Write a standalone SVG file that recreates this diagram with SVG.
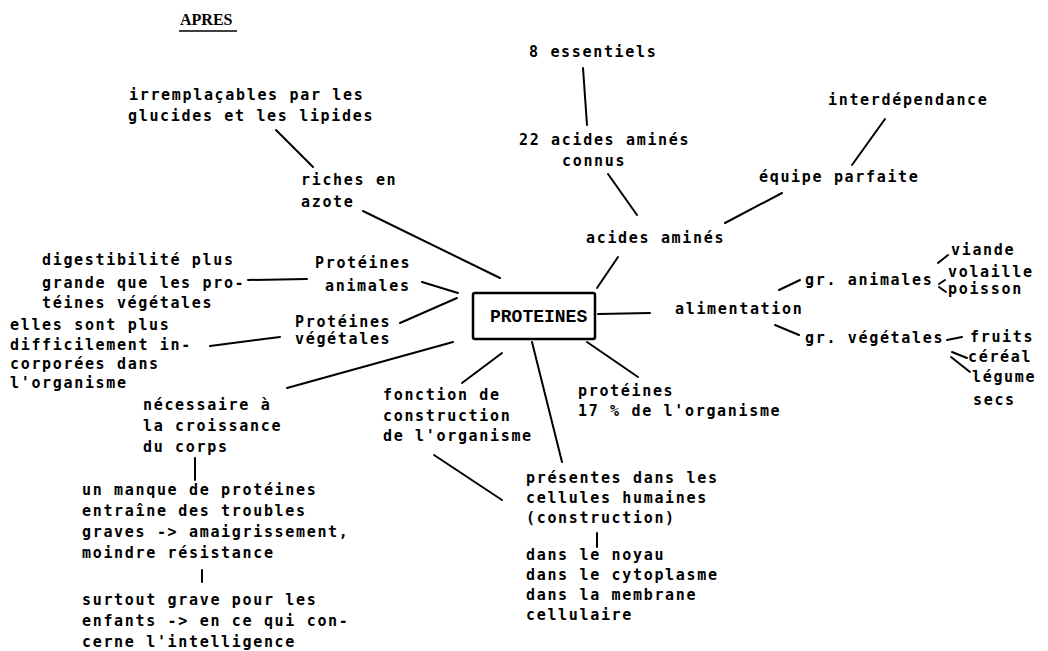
<svg xmlns="http://www.w3.org/2000/svg" width="1048" height="651" viewBox="0 0 1048 651">
<style>
  text { font-family: "DejaVu Sans Mono", "Liberation Mono", monospace; font-size: 15px; font-weight: bold; letter-spacing: 1.67px; fill: #000; }
  .title { font-family: "Liberation Serif", serif; font-size: 16px; letter-spacing: 0; }
  .main { font-family: "Liberation Mono", monospace; font-size: 18px; letter-spacing: 0; }
  .c line { stroke: #000; stroke-width: 2; stroke-linecap: round; }
  .box { fill: none; stroke: #000; stroke-width: 2.5; }
</style>
<rect width="1048" height="651" fill="#fff"/>
<g id="title">
  <text class="title" x="180" y="25">APRES</text>
  <line x1="179" y1="31" x2="237" y2="31" stroke="#000" stroke-width="1.5"/>
</g>
<g id="proteines">
  <rect class="box" x="473" y="293" width="122" height="46" rx="2"/>
  <text class="main" x="490" y="322">PROTEINES</text>
</g>
<g id="irremplacables">
  <text x="129" y="100">irremplaçables par les</text>
  <text x="128" y="121">glucides et les lipides</text>
</g>
<g id="riches">
  <text x="301" y="185">riches en</text>
  <text x="301" y="207">azote</text>
</g>
<g id="essentiels"><text x="529" y="57">8 essentiels</text></g>
<g id="acides22">
  <text x="519" y="145">22 acides aminés</text>
  <text x="562" y="166">connus</text>
</g>
<g id="interdependance"><text x="828" y="105">interdépendance</text></g>
<g id="equipe"><text x="759" y="182">équipe parfaite</text></g>
<g id="acides"><text x="586" y="243">acides aminés</text></g>
<g id="digestibilite">
  <text x="42" y="265">digestibilité plus</text>
  <text x="42" y="288">grande que les pro-</text>
  <text x="42" y="308">téines végétales</text>
</g>
<g id="prot-animales">
  <text x="315" y="268">Protéines</text>
  <text x="325" y="291">animales</text>
</g>
<g id="prot-vegetales">
  <text x="295" y="327">Protéines</text>
  <text x="295" y="344">végétales</text>
</g>
<g id="elles">
  <text x="10" y="330">elles sont plus</text>
  <text x="10" y="350">difficilement in-</text>
  <text x="10" y="369">corporées dans</text>
  <text x="10" y="388">l'organisme</text>
</g>
<g id="necessaire">
  <text x="143" y="410">nécessaire à</text>
  <text x="143" y="431">la croissance</text>
  <text x="143" y="452">du corps</text>
</g>
<g id="manque">
  <text x="82" y="495">un manque de protéines</text>
  <text x="82" y="516">entraîne des troubles</text>
  <text x="82" y="537">graves -&gt; amaigrissement,</text>
  <text x="82" y="558">moindre résistance</text>
</g>
<g id="surtout">
  <text x="82" y="605">surtout grave pour les</text>
  <text x="82" y="626">enfants -&gt; en ce qui con-</text>
  <text x="82" y="647">cerne l'intelligence</text>
</g>
<g id="fonction">
  <text x="383" y="400">fonction de</text>
  <text x="383" y="421">construction</text>
  <text x="383" y="441">de l'organisme</text>
</g>
<g id="proteines17">
  <text x="578" y="396">protéines</text>
  <text x="578" y="416">17 % de l'organisme</text>
</g>
<g id="presentes">
  <text x="526" y="483">présentes dans les</text>
  <text x="526" y="503">cellules humaines</text>
  <text x="526" y="523">(construction)</text>
</g>
<g id="dans">
  <text x="526" y="560">dans le noyau</text>
  <text x="526" y="580">dans le cytoplasme</text>
  <text x="526" y="600">dans la membrane</text>
  <text x="526" y="620">cellulaire</text>
</g>
<g id="alimentation"><text x="675" y="314">alimentation</text></g>
<g id="gr-animales"><text x="805" y="285">gr. animales</text></g>
<g id="viande"><text x="951" y="255">viande</text></g>
<g id="volaille"><text x="948" y="277">volaille</text></g>
<g id="poisson"><text x="948" y="294">poisson</text></g>
<g id="gr-vegetales"><text x="805" y="343">gr. végétales</text></g>
<g id="fruits"><text x="970" y="342">fruits</text></g>
<g id="cereal"><text x="968" y="362">céréal</text></g>
<g id="legume">
  <text x="972" y="382">légume</text>
  <text x="973" y="405">secs</text>
</g>
<g id="connectors" class="c">
  <line x1="276" y1="130" x2="313" y2="167"/>
  <line x1="363" y1="211" x2="500" y2="278"/>
  <line x1="583" y1="68" x2="587" y2="125"/>
  <line x1="608" y1="174" x2="637" y2="215"/>
  <line x1="885" y1="119" x2="852" y2="165"/>
  <line x1="782" y1="193" x2="725" y2="223"/>
  <line x1="618" y1="257" x2="597" y2="288"/>
  <line x1="248" y1="280" x2="307" y2="279"/>
  <line x1="422" y1="282" x2="458" y2="293"/>
  <line x1="400" y1="323" x2="457" y2="298"/>
  <line x1="210" y1="346" x2="280" y2="337"/>
  <line x1="287" y1="388" x2="453" y2="342"/>
  <line x1="462" y1="383" x2="502" y2="353"/>
  <line x1="532" y1="342" x2="562" y2="462"/>
  <line x1="587" y1="342" x2="638" y2="377"/>
  <line x1="598" y1="314" x2="650" y2="313"/>
  <line x1="779" y1="290" x2="800" y2="280"/>
  <line x1="775" y1="325" x2="799" y2="335"/>
  <line x1="938" y1="263" x2="948" y2="255"/>
  <line x1="939" y1="284" x2="945" y2="280"/>
  <line x1="939" y1="287" x2="946" y2="292"/>
  <line x1="947" y1="340" x2="962" y2="337"/>
  <line x1="952" y1="352" x2="967" y2="358"/>
  <line x1="951" y1="357" x2="970" y2="372"/>
  <line x1="195" y1="458" x2="195" y2="480"/>
  <line x1="202" y1="570" x2="202" y2="582"/>
  <line x1="434" y1="455" x2="502" y2="500"/>
  <line x1="597" y1="533" x2="597" y2="547"/>
</g>
</svg>
